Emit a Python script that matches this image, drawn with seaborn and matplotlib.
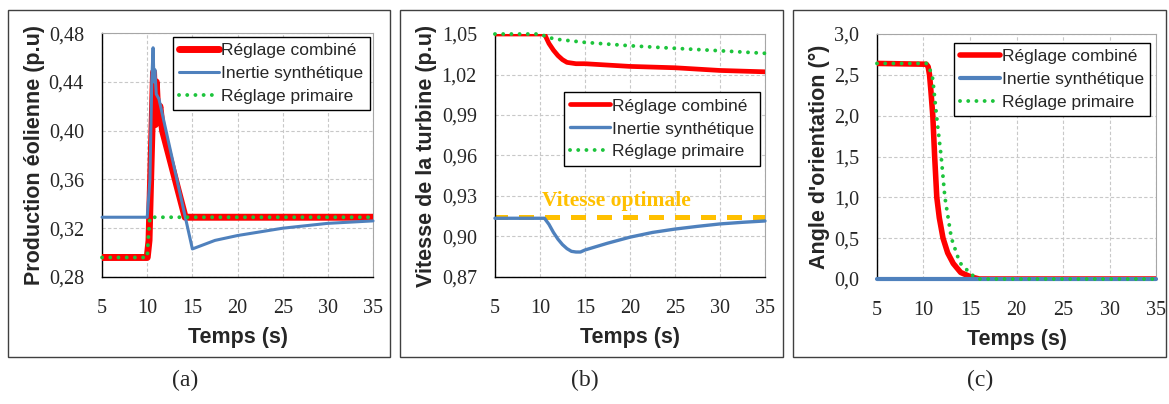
import matplotlib
matplotlib.use("Agg")
import matplotlib.pyplot as plt
from matplotlib.patches import Rectangle
from matplotlib.ticker import FuncFormatter
import seaborn as sns

# ---- data ----
# (a) Production éolienne (p.u)
a_t_comb = [5, 10.0, 10.2, 10.45, 10.7, 10.9, 11.0, 11.2, 11.4, 11.7, 14.2, 35]
a_comb = [0.296, 0.296, 0.31, 0.38, 0.448, 0.405, 0.44, 0.41, 0.42, 0.40, 0.329, 0.329]
a_t_iner = [5, 10.0, 10.3, 10.5, 10.65, 10.75, 10.85, 11.0, 11.3, 15.0, 17.5, 20, 22.5, 25, 27.5, 30, 32.5, 35]
a_iner = [0.329, 0.329, 0.36, 0.44, 0.468, 0.44, 0.45, 0.43, 0.426, 0.303, 0.310, 0.314, 0.317, 0.320, 0.322, 0.324, 0.325, 0.326]
a_t_prim = [5, 10.0, 10.1, 10.3, 35]
a_prim = [0.296, 0.296, 0.31, 0.329, 0.329]

# (b) Vitesse de la turbine (p.u)
b_t_comb = [5, 10.5, 11, 11.5, 12, 12.5, 13, 14, 15, 17.5, 20, 22.5, 25, 27.5, 30, 32.5, 35]
b_comb = [1.05, 1.05, 1.043, 1.038, 1.034, 1.031, 1.029, 1.028, 1.028, 1.027, 1.026, 1.0255, 1.025, 1.024, 1.023, 1.0225, 1.022]
b_t_iner = [5, 10.5, 11, 11.5, 12, 12.5, 13, 13.5, 14, 14.5, 15, 16, 17.5, 20, 22.5, 25, 27.5, 30, 32.5, 35]
b_iner = [0.9135, 0.9135, 0.909, 0.903, 0.898, 0.894, 0.891, 0.889, 0.8885, 0.8885, 0.890, 0.892, 0.895, 0.8995, 0.903, 0.9055, 0.9075, 0.9093, 0.9105, 0.9115]
b_t_prim = [5, 10, 11, 12, 15, 20, 25, 30, 35]
b_prim = [1.05, 1.05, 1.0473, 1.046, 1.0438, 1.0413, 1.0394, 1.0376, 1.0357]
b_optimal = 0.9147

# (c) Angle d'orientation (°)
c_t_comb = [5, 10.3, 10.5, 10.65, 10.8, 10.9, 11.0, 11.2, 11.43, 11.7, 12.1, 12.6, 13.2, 14.0, 15.0, 16.0, 35]
c_comb = [2.64, 2.63, 2.6, 2.5, 2.3, 2.15, 2.0, 1.5, 1.0, 0.75, 0.5, 0.32, 0.19, 0.08, 0.03, 0.0, 0.0]
c_t_iner = [5, 35]
c_iner = [0.0, 0.0]
c_t_prim = [5, 10.3, 10.6, 11.0, 11.4, 11.9, 12.3, 13.0, 13.9, 15.2, 16.0, 35]
c_prim = [2.64, 2.64, 2.6, 2.45, 2.0, 1.5, 1.0, 0.5, 0.2, 0.05, 0.0, 0.0]

labels = ["Réglage combiné", "Inertie synthétique", "Réglage primaire"]
x_ticks = [5, 10, 15, 20, 25, 30, 35]

RED = "#FF0000"
BLUE = "#4F81BD"
GREEN = "#1DC43C"
GOLD = "#FFC000"

sns.set_theme(style="white")
plt.rcParams["font.family"] = ["Liberation Sans", "DejaVu Sans"]

fig = plt.figure(figsize=(11.69, 4.04), dpi=100)

panels = [
    dict(pos=[0.0873, 0.3144, 0.2318, 0.6036], ylim=(0.28, 0.48), yticks=[0.28, 0.32, 0.36, 0.40, 0.44, 0.48],
         fmt="{:.2f}", ylabel="Production éolienne (p.u)",
         series=[(a_t_comb, a_comb), (a_t_iner, a_iner), (a_t_prim, a_prim)], lws=(5.0, 2.2),
         leg=(0.987, 0.985), box=(8, 10, 390, 357), tag="(a)", tag_x=185),
    dict(pos=[0.4234, 0.3144, 0.2310, 0.6014], ylim=(0.87, 1.05), yticks=[0.87, 0.90, 0.93, 0.96, 0.99, 1.02, 1.05],
         fmt="{:.2f}", ylabel="Vitesse de la turbine (p.u)",
         series=[(b_t_comb, b_comb), (b_t_iner, b_iner), (b_t_prim, b_prim)], lws=(3.4, 2.4),
         leg=(0.983, 0.76), box=(400, 10, 783, 357), tag="(b)", tag_x=585),
    dict(pos=[0.7502, 0.3094, 0.2387, 0.6064], ylim=(0.0, 3.0), yticks=[0.0, 0.5, 1.0, 1.5, 2.0, 2.5, 3.0],
         fmt="{:.1f}", ylabel="Angle d'orientation (°)",
         series=[(c_t_comb, c_comb), (c_t_iner, c_iner), (c_t_prim, c_prim)], lws=(4.0, 3.0),
         leg=(0.98, 0.965), box=(793, 10, 1166, 357), tag="(c)", tag_x=980),
]

W, H = 1169, 404
for p in panels:
    # outer frame of each sub-figure
    x0, y0, x1, y1 = p["box"]
    fig.patches.append(Rectangle((x0 / W, 1 - y1 / H), (x1 - x0) / W, (y1 - y0) / H,
                                 transform=fig.transFigure, fill=False,
                                 edgecolor="#404040", linewidth=1.0))
    fig.text(p["tag_x"] / W, 1 - 380 / H, p["tag"], ha="center", va="center",
             fontsize=17, family="Liberation Serif")

    ax = fig.add_axes(p["pos"])
    (tc, yc), (ti, yi), (tp, yp) = p["series"]
    red_lw, blue_lw = p["lws"]
    sns.lineplot(x=tc, y=yc, ax=ax, color=RED, lw=red_lw, estimator=None, sort=False,
                 label=labels[0], solid_joinstyle="round", zorder=3)
    sns.lineplot(x=ti, y=yi, ax=ax, color=BLUE, lw=blue_lw, estimator=None, sort=False,
                 label=labels[1], clip_on=False, zorder=3.1)
    line = sns.lineplot(x=tp, y=yp, ax=ax, color=GREEN, lw=2.8, estimator=None, sort=False,
                        label=labels[2], clip_on=False, zorder=3.2).lines[-1]
    line.set_linestyle((0, (0.01, 2.1)))
    line.set_dash_capstyle("round")

    ax.set_xlim(5, 35)
    ax.set_ylim(*p["ylim"])
    ax.set_xticks(x_ticks)
    ax.set_yticks(p["yticks"])
    fmt = p["fmt"]
    ax.yaxis.set_major_formatter(FuncFormatter(lambda v, _, f=fmt: f.format(v).replace(".", ",")))
    ax.grid(True, color="#C8C8C8", linestyle=(0, (3, 2)), linewidth=0.8)
    ax.set_axisbelow(True)
    for s in ["left", "bottom"]:
        ax.spines[s].set_color("black")
        ax.spines[s].set_linewidth(1.0)
    for s in ["top", "right"]:
        ax.spines[s].set_color("#A6A6A6")
        ax.spines[s].set_linewidth(0.8)
    ax.tick_params(axis="both", which="major", direction="out", length=5, width=1,
                   color="black", labelsize=14.5, pad=8)
    ax.tick_params(axis="x", pad=11)
    for lab in ax.get_xticklabels() + ax.get_yticklabels():
        lab.set_family("Liberation Serif")

    ax.set_xlabel("Temps (s)", fontsize=15.5, fontweight="bold", labelpad=6)
    ax.set_ylabel(p["ylabel"], fontsize=15.5, fontweight="bold", labelpad=3)

    leg = ax.legend(loc="upper right", bbox_to_anchor=p["leg"], fontsize=12.5, frameon=True,
                    fancybox=False, edgecolor="black", framealpha=1, handlelength=2.3,
                    handletextpad=0.15, labelspacing=0.45, borderpad=0.35, borderaxespad=0)
    leg.get_frame().set_linewidth(1.0)

    if p["tag"] == "(b)":
        ax.axhline(b_optimal, color=GOLD, lw=3.6, linestyle=(0.5, (3.0, 2.2)), zorder=2.5)
        ax.text(10.2, 0.9262, "Vitesse optimale", color=GOLD, fontsize=15.5, fontweight="bold",
                family="Liberation Serif", ha="left", va="center")

fig.savefig("out.png", dpi=100)
